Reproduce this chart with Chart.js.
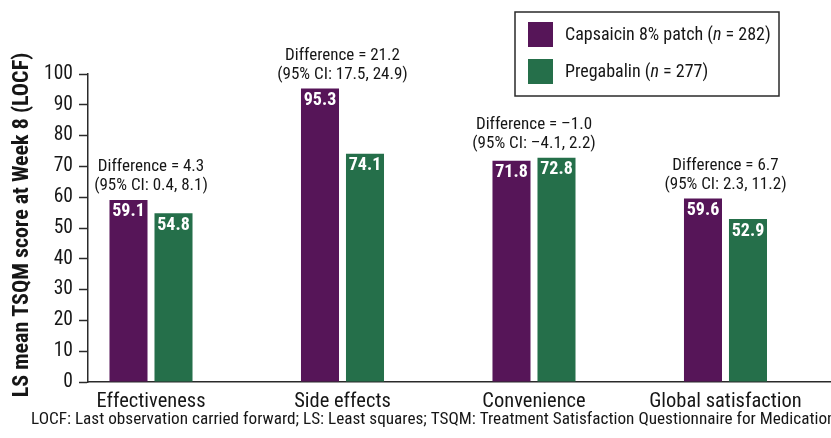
<!DOCTYPE html>
<html>
<head>
<meta charset="utf-8">
<script src="https://cdn.jsdelivr.net/npm/chart.js@4/dist/chart.umd.min.js"></script>
<style>
  html, body { margin: 0; padding: 0; background: #ffffff; }
  #wrap { width: 831px; height: 438px; position: relative; }
</style>
</head>
<body>
<div id="wrap"><canvas id="chart"></canvas></div>
<script>
// TSQM domain scores at week 8
const categories = ['Effectiveness', 'Side effects', 'Convenience', 'Global satisfaction'];
const capsaicin = [59.1, 95.3, 71.8, 59.6];
const pregabalin = [54.8, 74.1, 72.8, 52.9];
const difference = [4.3, 21.2, -1.0, 6.7];
const ciLower = [0.4, 17.5, -4.1, 2.3];
const ciUpper = [8.1, 24.9, 2.2, 11.2];
const yTicks = [0, 10, 20, 30, 40, 50, 60, 70, 80, 90, 100];
const seriesNames = ['Capsaicin 8% patch', 'Pregabalin'];
const seriesN = [282, 277];
const yTitle = 'LS mean TSQM score at Week 8 (LOCF)';
const footnote = 'LOCF: Last observation carried forward; LS: Least squares; TSQM: Treatment Satisfaction Questionnaire for Medication';

const FONT = '"Roboto Condensed", "DejaVu Sans Condensed", sans-serif';
const PURPLE = '#561558';
const GREEN = '#256f4a';
const INK = '#161616';
const AXIS = '#2a2a2a';

// numbers with a typographic minus
const fmt = v => (v < 0 ? '\u2013' : '') + Math.abs(v).toFixed(1);

// each domain sits at its index along the x scale
const toPoints = values => values.map((v, i) => ({ x: i, y: v }));

const annotations = {
  id: 'annotations',
  afterDatasetsDraw(chart) {
    const ctx = chart.ctx;
    const metas = [chart.getDatasetMeta(0), chart.getDatasetMeta(1)];
    const series = [capsaicin, pregabalin];
    ctx.save();
    ctx.textAlign = 'center';
    ctx.textBaseline = 'middle';

    // values inside the bar tops
    ctx.fillStyle = '#ffffff';
    ctx.font = `bold 18px ${FONT}`;
    metas.forEach((meta, di) => {
      meta.data.forEach((bar, i) => {
        ctx.fillText(fmt(series[di][i]), bar.x, bar.y + 12);
      });
    });

    // between-group difference above each pair
    ctx.fillStyle = INK;
    ctx.font = `17px ${FONT}`;
    categories.forEach((c, i) => {
      const a = metas[0].data[i], b = metas[1].data[i];
      const cx = (a.x + b.x) / 2;
      const top = Math.min(a.y, b.y);
      ctx.fillText(`Difference = ${fmt(difference[i])}`, cx, top - 33);
      ctx.fillText(`(95% CI: ${fmt(ciLower[i])}, ${fmt(ciUpper[i])})`, cx, top - 14);
    });
    ctx.restore();
  },
  afterDraw(chart) {
    const ctx = chart.ctx;
    ctx.save();

    // axis title
    ctx.fillStyle = INK;
    ctx.font = `bold 22px ${FONT}`;
    ctx.textAlign = 'center';
    ctx.textBaseline = 'middle';
    ctx.translate(22, 225);
    ctx.rotate(-Math.PI / 2);
    ctx.fillText(yTitle, 0, 0);
    ctx.setTransform(1, 0, 0, 1, 0, 0);

    // footnote
    ctx.font = `17.2px ${FONT}`;
    ctx.textAlign = 'left';
    ctx.fillText(footnote, 31, 420);

    // legend box
    ctx.strokeStyle = AXIS;
    ctx.lineWidth = 1.5;
    ctx.strokeRect(515, 12, 264, 84);
    const colors = chart.data.datasets.map(d => d.backgroundColor);
    seriesNames.forEach((name, i) => {
      const y = 22 + i * 37;
      ctx.fillStyle = colors[i];
      ctx.fillRect(528, y, 25, 25);
      ctx.fillStyle = INK;
      ctx.textAlign = 'left';
      let x = 565;
      const cy = y + 13;
      const parts = [[`${name} (`, ''], ['n', 'italic '], [` = ${seriesN[i]})`, '']];
      parts.forEach(([t, style]) => {
        ctx.font = `${style}18px ${FONT}`;
        ctx.fillText(t, x, cy);
        x += ctx.measureText(t).width;
      });
    });
    ctx.restore();
  }
};

new Chart(document.getElementById('chart'), {
  type: 'bar',
  data: {
    datasets: [
      { label: seriesNames[0], data: toPoints(capsaicin), backgroundColor: PURPLE },
      { label: seriesNames[1], data: toPoints(pregabalin), backgroundColor: GREEN }
    ]
  },
  options: {
    responsive: true,
    maintainAspectRatio: false,
    animation: false,
    events: [],
    layout: { padding: { top: 74, right: 0, left: 0, bottom: 0 } },
    datasets: { bar: { categoryPercentage: 0.47, barPercentage: 0.845 } },
    plugins: { legend: { display: false }, tooltip: { enabled: false } },
    scales: {
      x: {
        type: 'linear',
        bounds: 'data',
        min: -0.329,
        max: 3.551,
        offset: false,
        afterBuildTicks: s => { s.ticks = categories.map((c, i) => ({ value: i })); },
        grid: { display: false, drawTicks: false },
        border: { display: true, color: AXIS, width: 1.5 },
        ticks: {
          color: INK,
          font: { family: FONT, size: 20.5 },
          padding: 8,
          autoSkip: false,
          maxRotation: 0,
          callback: v => categories[v] ?? ''
        },
        afterFit: s => { s.height = 56; }
      },
      y: {
        min: 0,
        max: 100,
        afterBuildTicks: s => { s.ticks = yTicks.map(v => ({ value: v })); },
        grid: { drawOnChartArea: false, drawTicks: true, tickLength: 9, tickColor: AXIS, tickWidth: 1.5 },
        border: { display: true, color: AXIS, width: 1.5 },
        ticks: { color: INK, font: { family: FONT, size: 19.5 }, padding: 6 },
        afterFit: s => { s.width = 88; }
      }
    }
  },
  plugins: [annotations]
});
</script>
</body>
</html>
